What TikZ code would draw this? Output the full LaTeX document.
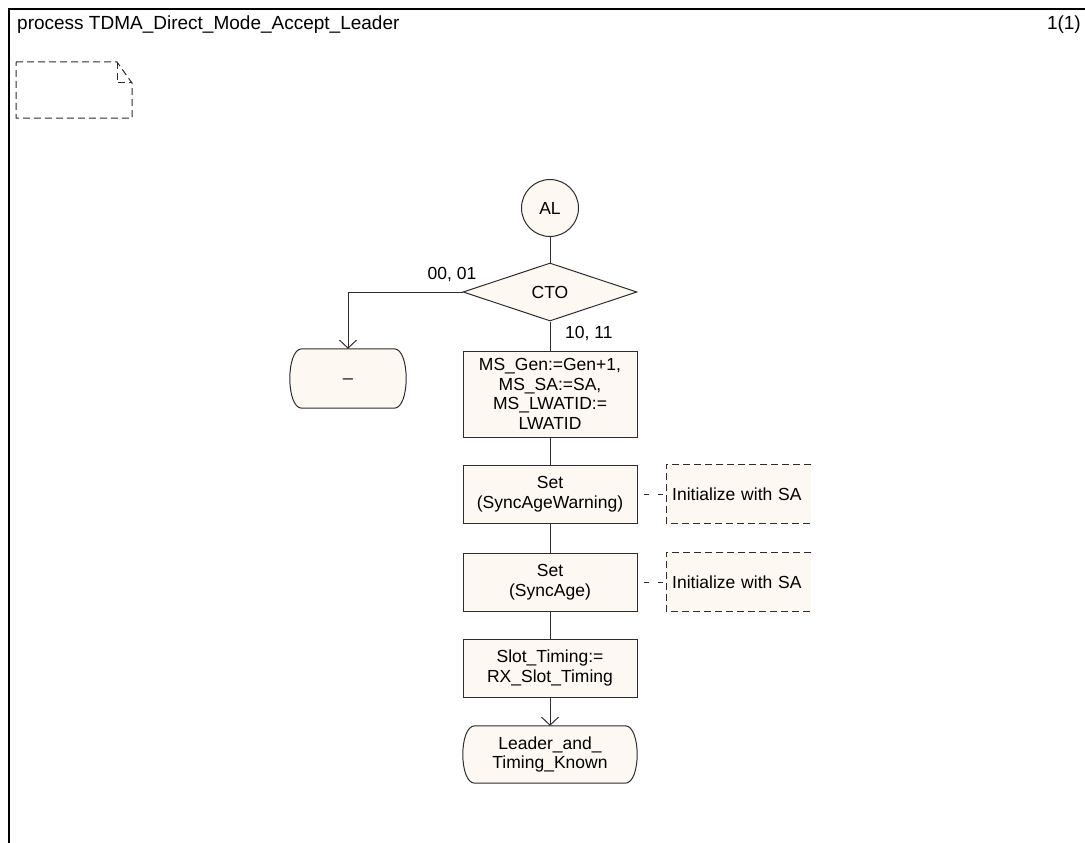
\documentclass[tikz,border=0pt]{standalone}
\usepackage{fontspec}
\setmainfont{Liberation Sans}
\usetikzlibrary{arrows.meta,shapes.geometric,backgrounds}
\definecolor{boxfill}{RGB}{253,248,242}
\definecolor{ink}{RGB}{45,45,45}
\tikzset{
  every node/.style={font=\fontsize{17.5}{19.5}\selectfont, text=black},
  line/.style={draw=ink, line width=1pt},
  arrowline/.style={line, -{Straight Barb[length=8pt,width=17pt]}},
  taskbox/.style={draw=ink, fill=boxfill, line width=1pt, minimum width=174pt,
    minimum height=58pt, inner sep=0pt, align=center},
  statebox/.style={minimum width=174pt, minimum height=57pt, inner sep=0pt, align=center},
  startcircle/.style={circle, draw=ink, fill=boxfill, line width=1pt, minimum size=57pt, inner sep=0pt},
  decision/.style={diamond, draw=ink, fill=boxfill, line width=1pt, minimum width=174pt,
    minimum height=58pt, aspect=3, inner sep=0pt},
  commentbox/.style={fill=boxfill, minimum height=58pt, text width=133pt, inner xsep=6pt,
    inner ysep=0pt, align=left},
  commentdash/.style={draw=ink, line width=1pt, dash pattern=on 7pt off 4pt},
  commentlink/.style={draw=ink, line width=1pt, dash pattern=on 5pt off 9pt, dash phase=8pt},
  headtext/.style={font=\fontsize{19}{22}\selectfont},
  edgelabel/.style={inner sep=0pt}
}
\newcommand\mystate[1]{%
  \path[fill=boxfill, draw=ink, line width=1pt]
    ([xshift=12pt]#1.north west) -- ([xshift=-12pt]#1.north east)
    .. controls ([xshift=4pt]#1.north east) and ([xshift=4pt]#1.south east) ..
    ([xshift=-12pt]#1.south east) -- ([xshift=12pt]#1.south west)
    .. controls ([xshift=-4pt]#1.south west) and ([xshift=-4pt]#1.north west) ..
    cycle;}
\begin{document}
\begin{tikzpicture}[x=1pt,y=-1pt]
\path[use as bounding box] (0,0) rectangle (1085,843);
% frame
\draw[black, line width=2pt] (9,843) -- (9,9) -- (1085,9);
\node[headtext, anchor=base west, inner sep=0pt] (title) at (17,30) {process TDMA\_Direct\_Mode\_Accept\_Leader};
\node[headtext, anchor=base east, inner sep=0pt] (page) at (1081,30) {1(1)};
% text extension symbol
\draw[ink, line width=1pt, dash pattern=on 7pt off 4pt]
  (16,62) -- (117,62) -- (132,83) -- (132,118) -- (16,118) -- cycle;
\draw[ink, line width=1pt, dash pattern=on 7pt off 4pt] (117,62) -- (117,83) -- (132,83);

% nodes
\node[startcircle] (al) at (550,208) {AL};
\node[decision] (cto) at (550,292) {CTO};
\node[statebox, minimum width=116pt, minimum height=59pt] (st1) at (348,378.5) {\_};
\node[taskbox, minimum height=86pt] (t1) at (550,394) {MS\_Gen:=Gen+1,\\MS\_SA:=SA,\\MS\_LWATID:=\\LWATID};
\node[taskbox] (t2) at (550,494) {Set\\(SyncAgeWarning)};
\node[taskbox] (t3) at (550,582) {Set\\(SyncAge)};
\node[taskbox] (t4) at (550,668) {Slot\_Timing:=\\RX\_Slot\_Timing};
\node[statebox] (st2) at (550,754.5) {Leader\_and\_\\Timing\_Known};
\node[commentbox, anchor=west] (c1) at (666,494) {Initialize with SA};
\node[commentbox, anchor=west] (c2) at (666,582) {Initialize with SA};

\begin{scope}[on background layer]
  \mystate{st1}
  \mystate{st2}
\end{scope}

% comment outlines
\path[commentdash] (c1.north east) -- (c1.north west) -- (c1.south west) -- (c1.south east);
\path[commentdash] (c2.north east) -- (c2.north west) -- (c2.south west) -- (c2.south east);

% connectors
\path[line] (al.south) -- (cto.north);
\path[arrowline] (cto.west) -| (st1.north);
\path[line] (cto.south) -- (t1.north);
\path[line] (t1.south) -- (t2.north);
\path[line] (t2.south) -- (t3.north);
\path[line] (t3.south) -- (t4.north);
\path[arrowline] (t4.south) -- (st2.north);
\path[commentlink] (t2.east) -- (c1.west);
\path[commentlink] (t3.east) -- (c2.west);

% labels
\node[edgelabel, anchor=east] (l1) at ([shift={(14,-17)}]cto.west) {00, 01};
\node[edgelabel, anchor=west] (l2) at ([shift={(15,12)}]cto.south) {10, 11};
\end{tikzpicture}
\end{document}
